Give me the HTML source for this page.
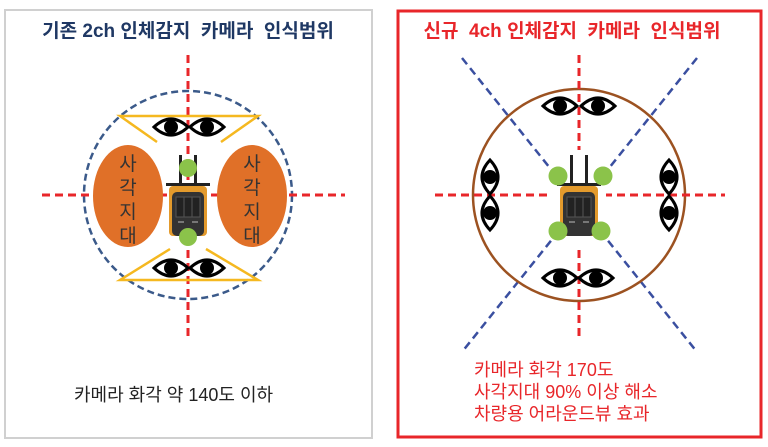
<!DOCTYPE html>
<html><head><meta charset="utf-8"><style>
body{margin:0;background:#fff;}
svg{display:block;font-family:"Liberation Sans","Noto Sans CJK KR",sans-serif;}
</style></head><body>
<svg width="768" height="447" viewBox="0 0 768 447">
<defs>
<g id="eye">
<path d="M-17,0 Q0,-16 17,0 Q0,16 -17,0 Z" fill="#fff" stroke="#000" stroke-width="3"/>
<circle cx="0" cy="0" r="7" fill="#000"/>
</g>
<g id="fork">
<rect x="-9" y="-40" width="3" height="30" fill="#222"/>
<rect x="6" y="-40" width="3" height="30" fill="#222"/>
<rect x="-22" y="-12" width="44" height="3" fill="#222"/>
<rect x="-19" y="-9" width="38" height="50" rx="4" fill="#e39a2c"/>
<rect x="-16" y="-3" width="32" height="44" rx="5" fill="#333"/>
<rect x="-12" y="2" width="24" height="20" fill="#222" stroke="#555"/>
<line x1="-4" y1="2" x2="-4" y2="22" stroke="#555"/><line x1="4" y1="2" x2="4" y2="22" stroke="#555"/>
<rect x="-10" y="26" width="6" height="2" fill="#777"/><rect x="4" y="26" width="6" height="2" fill="#777"/>
</g>
</defs>
<rect x="5" y="10" width="367" height="428" fill="#fff" stroke="#d0d0d0" stroke-width="2"/>
<rect x="398" y="11" width="363" height="426" fill="#fff" stroke="#e8262a" stroke-width="3"/>
<text x="188" y="37" text-anchor="middle" font-size="19" font-weight="bold" fill="#1f3864" xml:space="preserve">기존 2ch 인체감지  카메라  인식범위</text>
<text x="572" y="37" text-anchor="middle" font-size="19" font-weight="bold" fill="#e8262a" xml:space="preserve">신규  4ch 인체감지  카메라  인식범위</text>

<circle cx="188" cy="195" r="104" fill="none" stroke="#3b5a8a" stroke-width="2.5" stroke-dasharray="7,4"/>
<line x1="188" y1="55" x2="188" y2="340" stroke="#e8262a" stroke-width="3" stroke-dasharray="8,5"/>
<line x1="42" y1="195" x2="345" y2="195" stroke="#e8262a" stroke-width="3" stroke-dasharray="8,5"/>
<ellipse cx="128" cy="196" rx="35" ry="51" fill="#e07028"/>
<ellipse cx="252" cy="196" rx="35" ry="51" fill="#e07028"/>
<g font-size="19" fill="#333" text-anchor="middle">
<text x="128" y="170">사</text><text x="128" y="194">각</text><text x="128" y="218">지</text><text x="128" y="242">대</text>
<text x="252" y="170">사</text><text x="252" y="194">각</text><text x="252" y="218">지</text><text x="252" y="242">대</text>
</g>
<g stroke="#f5b820" stroke-width="2.5" fill="none">
<path d="M157,142 L120,116 L258,116 L221,142"/>
<path d="M170,249 L120,280 L258,280 L206,249"/>
</g>
<use href="#eye" x="171" y="127"/><use href="#eye" x="207" y="127"/>
<use href="#eye" x="171" y="268"/><use href="#eye" x="207" y="268"/>
<use href="#fork" x="188" y="195"/>
<circle cx="188" cy="168" r="9" fill="#8bc34a"/>
<circle cx="188" cy="237" r="9" fill="#8bc34a"/>
<text x="74" y="401" font-size="18" fill="#222">카메라 화각 약 140도 이하</text>

<line x1="462" y1="58" x2="697" y2="352" stroke="#3a4fa0" stroke-width="2.5" stroke-dasharray="8,5"/>
<line x1="697" y1="58" x2="462" y2="352" stroke="#3a4fa0" stroke-width="2.5" stroke-dasharray="8,5"/>
<circle cx="579" cy="195" r="106" fill="none" stroke="#9c5221" stroke-width="2.5"/>
<line x1="579" y1="55" x2="579" y2="340" stroke="#e8262a" stroke-width="3" stroke-dasharray="8,5"/>
<line x1="435" y1="195" x2="725" y2="195" stroke="#e8262a" stroke-width="3" stroke-dasharray="8,5"/>
<rect x="552" y="150" width="54" height="95" fill="#fff"/>
<use href="#fork" x="579" y="195"/>
<use href="#eye" x="560" y="106"/><use href="#eye" x="598" y="106"/>
<use href="#eye" x="560" y="278"/><use href="#eye" x="596" y="278"/>
<use href="#eye" transform="translate(490,177) rotate(90)"/><use href="#eye" transform="translate(490,213) rotate(90)"/>
<use href="#eye" transform="translate(669,177) rotate(90)"/><use href="#eye" transform="translate(669,213) rotate(90)"/>
<circle cx="558" cy="176" r="9.5" fill="#8bc34a"/><circle cx="603" cy="176" r="9.5" fill="#8bc34a"/>
<circle cx="558" cy="231" r="9.5" fill="#8bc34a"/><circle cx="601" cy="231" r="9.5" fill="#8bc34a"/>
<g font-size="18" fill="#e8262a">
<text x="474" y="376">카메라 화각 170도</text>
<text x="474" y="398">사각지대 90% 이상 해소</text>
<text x="474" y="420">차량용 어라운드뷰 효과</text>
</g>
</svg>
</body></html>
